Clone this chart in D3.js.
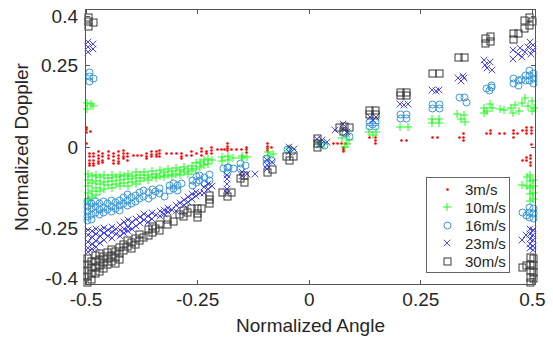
<!DOCTYPE html>
<html><head><meta charset="utf-8">
<script src="https://cdn.jsdelivr.net/npm/d3@7"></script>
<style>
body{margin:0;background:#fff}
svg{display:block}
text{font-family:"Liberation Sans",Arial,Helvetica,sans-serif;fill:#262626}
</style>
</head><body><svg id="c" width="553" height="337"></svg>
<script>
const seriesNames = ["3m/s","10m/s","16m/s","23m/s","30m/s"];
const xTicks = [-0.5,-0.25,0,0.25,0.5];
const xTickLabels = ["-0.5","-0.25","0","0.25","0.5"];
const yTicks = [-0.4,-0.25,0,0.25,0.4];
const yTickLabels = ["-0.4","-0.25","0","0.25","0.4"];

// each row: [normalized angle, doppler, doppler, ...]
const v3 = [
[-0.497,0.060,0.052,0.045,0.010],[-0.488,0.047],
[-0.492,-0.020,-0.030,-0.040,-0.050,-0.056],[-0.483,-0.020,-0.030,-0.040,-0.050,-0.056],
[-0.472,-0.015,-0.025,-0.035,-0.045,-0.051],[-0.462,-0.020,-0.030,-0.040,-0.046],
[-0.449,-0.015,-0.025,-0.036],[-0.438,-0.020,-0.030,-0.040,-0.051],
[-0.427,-0.015,-0.025,-0.035,-0.045,-0.051],[-0.416,-0.010,-0.020,-0.030,-0.036],
[-0.405,-0.020,-0.030,-0.041],[-0.393,-0.025],[-0.384,-0.025],[-0.375,-0.025],
[-0.363,-0.020,-0.028,-0.036],[-0.352,-0.015,-0.022,-0.030],[-0.341,-0.015,-0.022,-0.030],
[-0.334,-0.010,-0.020,-0.030],[-0.318,-0.020],[-0.307,-0.020],[-0.296,-0.020],
[-0.285,-0.020,-0.028,-0.036],[-0.274,-0.025],[-0.263,-0.015,-0.025],[-0.251,-0.020],
[-0.240,-0.005,-0.015,-0.025],[-0.229,-0.015,-0.020],[-0.218,-0.002,-0.010,-0.020],
[-0.205,-0.007],[-0.195,-0.007],[-0.188,-0.007],[-0.181,0.011,0.003,-0.005,-0.010],
[-0.172,-0.007],[-0.161,-0.007],[-0.150,-0.007],[-0.139,-0.001,-0.008,-0.016],
[-0.092,0.011,0.003,-0.005,-0.010],[-0.083,-0.001],[-0.045,0.002],[-0.038,-0.001],
[0.055,0.012],[0.064,0.012],[0.073,0.012],[0.082,0.012],[0.079,0.000,-0.007,-0.014],
[0.137,0.028],[0.150,0.028,0.020,0.012],[0.208,0.020],[0.218,0.020],
[0.277,0.030],[0.288,0.030],[0.337,0.030],[0.347,0.041,0.030,0.020],
[0.398,0.041],[0.407,0.051,0.041],[0.428,0.041],[0.439,0.041],
[0.458,0.051,0.041,0.030],[0.468,0.041],[0.478,0.051],[0.488,0.061,0.051,0.041],
[0.498,0.061,0.051,0.041],[0.499,0.008],
[0.478,-0.041],[0.488,-0.031,-0.041],[0.497,-0.026,-0.036,-0.046,-0.056]
];
const v10 = [
[-0.496,0.135,0.115],[-0.488,0.132],[-0.483,0.125],
[-0.495,-0.081,-0.102,-0.120,-0.139,-0.158,-0.166],[-0.486,-0.090,-0.111,-0.133,-0.154],
[-0.477,-0.084,-0.105,-0.126,-0.148],[-0.468,-0.093,-0.114,-0.133],
[-0.459,-0.087,-0.108,-0.129],[-0.450,-0.096,-0.117],[-0.441,-0.084,-0.105,-0.126],
[-0.432,-0.093,-0.114],[-0.423,-0.084,-0.102,-0.120],[-0.414,-0.090,-0.111],
[-0.405,-0.081,-0.099,-0.120],[-0.396,-0.090,-0.108],[-0.387,-0.077,-0.096,-0.114],
[-0.378,-0.087,-0.105],[-0.369,-0.077,-0.096],[-0.360,-0.084,-0.102],
[-0.351,-0.074,-0.093],[-0.343,-0.081,-0.096],[-0.334,-0.071,-0.090],
[-0.325,-0.077,-0.093],[-0.316,-0.068,-0.084],[-0.307,-0.074,-0.090],
[-0.298,-0.065,-0.081],[-0.289,-0.071,-0.087],[-0.280,-0.062,-0.077],
[-0.271,-0.068,-0.081],[-0.262,-0.059,-0.074],[-0.253,-0.050,-0.068],
[-0.244,-0.047,-0.062],[-0.235,-0.040,-0.055],[-0.226,-0.038,-0.052],[-0.217,-0.040],
[-0.195,-0.032,-0.044],[-0.181,-0.029,-0.041],[-0.170,-0.035],[-0.150,-0.026,-0.035],
[-0.139,-0.030],[-0.092,-0.016,-0.026],[-0.081,-0.022],[-0.043,-0.004,-0.013],
[0.020,0.012],[0.035,0.010],[0.025,0.003],
[0.075,0.028],[0.090,0.022],[0.085,0.010],[0.082,0.000],
[0.135,0.046],[0.150,0.046],[0.143,0.038],[0.205,0.062],[0.222,0.062],
[0.277,0.085,0.072],[0.292,0.085,0.072],
[0.333,0.102],[0.347,0.097],[0.340,0.085],[0.350,0.075],
[0.393,0.120,0.105],[0.405,0.132],[0.400,0.110],[0.410,0.118],[0.428,0.115],[0.437,0.113],
[0.452,0.118],[0.462,0.128],[0.470,0.110],[0.458,0.105],
[0.478,0.135],[0.485,0.150],[0.492,0.125],[0.500,0.110,0.140],[0.505,0.118],
[0.477,-0.117],[0.488,-0.092,-0.120],[0.495,-0.087,-0.105,-0.125,-0.145,-0.165],
[0.503,-0.100,-0.120,-0.140,-0.160]
];
const v16 = [
[-0.491,0.229,0.214,0.199],[-0.481,0.209],
[-0.495,-0.166,-0.181,-0.197,-0.212,-0.224],[-0.486,-0.172,-0.188,-0.206,-0.221],
[-0.477,-0.166,-0.181,-0.200],[-0.468,-0.172,-0.191,-0.206],[-0.459,-0.166,-0.185,-0.200],
[-0.450,-0.172,-0.191],[-0.441,-0.163,-0.181,-0.197],[-0.432,-0.169,-0.188],
[-0.423,-0.163,-0.178,-0.194],[-0.414,-0.154,-0.172],[-0.405,-0.145,-0.163,-0.178],
[-0.396,-0.154,-0.172],[-0.387,-0.148,-0.166],[-0.378,-0.139,-0.157],
[-0.369,-0.133,-0.151],[-0.360,-0.139,-0.157],[-0.351,-0.129,-0.148],[-0.343,-0.136],
[-0.334,-0.126,-0.142],[-0.322,-0.151],[-0.311,-0.117,-0.133],[-0.302,-0.111,-0.126],
[-0.293,-0.117,-0.133],[-0.284,-0.111],[-0.260,-0.102,-0.117],[-0.251,-0.090,-0.108],
[-0.244,-0.087,-0.102],[-0.233,-0.093,-0.111],[-0.222,-0.084,-0.102],
[-0.190,-0.065],[-0.183,-0.062,-0.077],[-0.179,-0.062],[-0.168,-0.065],
[-0.152,-0.050,-0.065],[-0.141,-0.056],[-0.094,-0.035,-0.050],[-0.083,-0.041],
[-0.047,-0.007],[-0.036,-0.013],
[0.028,0.012],[0.035,0.005],[0.082,0.040],[0.092,0.032],
[0.137,0.075,0.062],[0.150,0.075,0.062],[0.143,0.068],
[0.205,0.100,0.088],[0.220,0.100,0.088],[0.277,0.130,0.118],[0.292,0.130,0.118],
[0.337,0.151],[0.350,0.151],[0.354,0.137],
[0.398,0.178],[0.410,0.188,0.183],[0.406,0.173],
[0.458,0.209,0.194],[0.469,0.204,0.189],[0.477,0.206],
[0.486,0.219,0.204],[0.495,0.234,0.219,0.204],[0.503,0.224,0.209,0.194],
[0.478,-0.199],[0.488,-0.209],[0.495,-0.184,-0.199,-0.214],[0.503,-0.189,-0.204,-0.219]
];
const v23 = [
[-0.495,0.321,0.306,0.290],[-0.484,0.314,0.299],
[-0.495,-0.252,-0.270,-0.289,-0.307,-0.322],[-0.486,-0.258,-0.276,-0.295,-0.313],
[-0.477,-0.249,-0.267,-0.286,-0.304],[-0.468,-0.255,-0.273,-0.292],
[-0.459,-0.246,-0.264,-0.283],[-0.450,-0.252,-0.273],[-0.441,-0.243,-0.261,-0.279],
[-0.432,-0.249,-0.267],[-0.423,-0.237,-0.255,-0.273],[-0.414,-0.230,-0.249,-0.264],
[-0.405,-0.224,-0.243,-0.258],[-0.396,-0.230,-0.249],[-0.387,-0.221,-0.240],
[-0.378,-0.215,-0.233],[-0.369,-0.206,-0.224],[-0.360,-0.212,-0.230],
[-0.351,-0.203,-0.221],[-0.343,-0.209],[-0.334,-0.197,-0.212],[-0.325,-0.191,-0.206],
[-0.316,-0.185,-0.200],[-0.307,-0.191],[-0.298,-0.178,-0.194],[-0.289,-0.172],
[-0.280,-0.163,-0.178],[-0.271,-0.154,-0.169],[-0.262,-0.145,-0.160],
[-0.253,-0.136,-0.151],[-0.244,-0.142],[-0.235,-0.123,-0.139],[-0.226,-0.114,-0.129],
[-0.217,-0.120],[-0.183,-0.084,-0.099,-0.114,-0.129,-0.142],[-0.150,-0.075,-0.090],
[-0.139,-0.081],[-0.121,-0.081],[-0.094,-0.041,-0.056,-0.068],[-0.083,-0.047],
[-0.045,-0.001,-0.016],[-0.034,-0.007],
[0.018,0.025],[0.030,0.020],[0.040,0.015],[0.025,0.005],
[0.058,0.053],[0.077,0.071,0.056],[0.085,0.046],
[0.137,0.092],[0.150,0.092],[0.143,0.083],[0.205,0.132],[0.222,0.132],[0.213,0.128],
[0.277,0.175],[0.292,0.175],[0.285,0.170],
[0.335,0.212],[0.348,0.212],[0.341,0.202],[0.345,0.218],
[0.395,0.250],[0.405,0.260],[0.400,0.240],[0.410,0.235],[0.393,0.265],
[0.458,0.296,0.270],[0.469,0.285],[0.473,0.301],[0.477,0.275],
[0.484,0.290],[0.492,0.306],[0.495,0.321],[0.499,0.285],[0.503,0.311,0.296],
[0.477,-0.285],[0.486,-0.270],[0.495,-0.249,-0.265,-0.280,-0.296,-0.310],
[0.503,-0.255,-0.270,-0.285,-0.301,-0.316]
];
const v30 = [
[-0.493,0.395,0.382,0.369],[-0.481,0.379],
[-0.495,-0.341,-0.359,-0.377,-0.395,-0.414],[-0.486,-0.350,-0.368,-0.386,-0.405],
[-0.477,-0.331,-0.350,-0.368,-0.386],[-0.468,-0.325,-0.344,-0.362,-0.380],
[-0.459,-0.334,-0.353,-0.371],[-0.450,-0.322,-0.341,-0.359],[-0.441,-0.313,-0.331,-0.350],
[-0.432,-0.319,-0.337,-0.356],[-0.423,-0.307,-0.325,-0.344],[-0.414,-0.298,-0.316],
[-0.405,-0.286,-0.304],[-0.396,-0.292,-0.310],[-0.387,-0.279,-0.298],
[-0.378,-0.267,-0.286],[-0.369,-0.276],[-0.360,-0.252,-0.270],[-0.351,-0.243,-0.261],
[-0.343,-0.249],[-0.334,-0.237,-0.255],[-0.316,-0.221,-0.237],[-0.304,-0.227],
[-0.289,-0.206],[-0.280,-0.194,-0.212],[-0.271,-0.200],[-0.262,-0.188],
[-0.249,-0.189,-0.204,-0.214],[-0.240,-0.189],[-0.222,-0.148,-0.160,-0.172],
[-0.192,-0.138],[-0.173,-0.138],[-0.182,-0.151],[-0.152,-0.097],[-0.143,-0.086,-0.107],
[-0.092,-0.077],[-0.082,-0.069],[-0.050,-0.029],[-0.035,-0.029],[-0.042,-0.041],
[0.019,0.026,0.012,-0.002],
[0.068,0.061],[0.081,0.063],[0.091,0.061],[0.077,0.046],
[0.137,0.112,0.100],[0.150,0.112,0.100],[0.205,0.168,0.158],[0.220,0.168,0.158],
[0.277,0.225],[0.292,0.225],[0.335,0.272],[0.350,0.272],
[0.397,0.331,0.316],[0.407,0.336,0.321],[0.458,0.347,0.328],[0.471,0.348],
[0.484,0.387,0.363],[0.495,0.397,0.372],[0.502,0.382],
[0.478,-0.367],[0.488,-0.362],[0.497,-0.338,-0.358,-0.378,-0.398,-0.415],
[0.504,-0.342,-0.362,-0.382,-0.402]
];

const allSeries = [v3, v10, v16, v23, v30];
const colors = ["#ff0000","#00ff00","#3a96d8","#3434ff","#3a3a3a"];
const shapes = ["dot","plus","circle","cross","square"];
const offs = [0.5, 0, 0.5, 0, 0.5];

const svg = d3.select("#c");
const L = 85.5, R = 535.5, T = 9.5, B = 284.5;
const x = d3.scaleLinear().domain([-0.5, 0.508]).range([L, R]);
const y = d3.scaleLinear().domain([-0.42, 0.42]).range([B, T]);

svg.append("rect").attr("x",0).attr("y",0).attr("width",553).attr("height",337).attr("fill","#fff");

function marker(g, shape, color){
  if(shape==="dot"){
    g.append("circle").attr("r",1.3).attr("fill",color);
  } else if(shape==="plus"){
    g.append("path").attr("d","M-4,0H4M0,-4V4").attr("stroke",color).attr("stroke-width",0.9)
      .attr("fill","none");
  } else if(shape==="circle"){
    g.append("circle").attr("r",3.5).attr("stroke",color).attr("stroke-width",1).attr("fill","none");
  } else if(shape==="cross"){
    g.append("path").attr("d","M-3.3,-3.3L3.3,3.3M-3.3,3.3L3.3,-3.3").attr("stroke",color).attr("stroke-width",0.9).attr("fill","none");
  } else {
    g.append("rect").attr("x",-3.5).attr("y",-3.5).attr("width",7).attr("height",7).attr("stroke",color)
      .attr("stroke-width",1).attr("fill","none");
  }
}

const plot = svg.append("g");
allSeries.forEach((rows, si) => {
  const o = offs[si];
  const snap = v => Math.round(v - o) + o;
  const pts = rows.flatMap(r => r.slice(1).map(d => [r[0], d]));
  const gs = plot.append("g").selectAll("g").data(pts).join("g")
    .attr("transform", d => `translate(${snap(x(d[0]))},${snap(y(d[1]))})`);
  gs.each(function(){ marker(d3.select(this), shapes[si], colors[si]); });
});

// axes
const axCol = "#555";
const fs = 19;
const ax = svg.append("g");
const gBottom = ax.append("g").attr("transform",`translate(0,${B})`)
  .call(d3.axisBottom(x).tickValues(xTicks).tickFormat((d,i)=>xTickLabels[i]).tickSizeInner(-4.5).tickSizeOuter(0).tickPadding(8));
const gLeft = ax.append("g").attr("transform",`translate(${L},0)`)
  .call(d3.axisLeft(y).tickValues(yTicks).tickFormat((d,i)=>yTickLabels[i]).tickSizeInner(-4.5).tickSizeOuter(0).tickPadding(7.5));
const gTop = ax.append("g").attr("transform",`translate(0,${T})`)
  .call(d3.axisTop(x).tickValues(xTicks).tickFormat("").tickSizeInner(-4.5).tickSizeOuter(0));
const gRight = ax.append("g").attr("transform",`translate(${R},0)`)
  .call(d3.axisRight(y).tickValues(yTicks).tickFormat("").tickSizeInner(-4.5).tickSizeOuter(0));
[gBottom,gLeft,gTop,gRight].forEach(g=>{
  g.select(".domain").remove();
  g.selectAll(".tick line").attr("stroke",axCol).attr("shape-rendering","crispEdges");
  g.selectAll(".tick text").attr("font-size",fs).attr("fill","#262626")
   .style("font-family",'"Liberation Sans",Arial,sans-serif');
});
ax.append("rect").attr("x",L).attr("y",T).attr("width",R-L).attr("height",B-T)
  .attr("fill","none").attr("stroke",axCol).attr("stroke-width",1).attr("shape-rendering","crispEdges");

svg.append("text").attr("x",(L+R)/2).attr("y",332).attr("text-anchor","middle")
  .attr("font-size",fs).text("Normalized Angle");
svg.append("text").attr("transform",`translate(28,${(T+B)/2}) rotate(-90)`).attr("text-anchor","middle")
  .attr("font-size",fs).text("Normalized Doppler");

// legend
const lg = svg.append("g");
lg.append("rect").attr("x",426.5).attr("y",177.5).attr("width",83).attr("height",95)
  .attr("fill","#fff").attr("stroke","#666").attr("stroke-width",1).attr("shape-rendering","crispEdges");
const legY = [189.5,207.5,225.5,243.5,261.5];
seriesNames.forEach((name,i)=>{
  const o = offs[i] - 0.5;
  const g = lg.append("g").attr("transform",`translate(${447.5+o},${legY[i]+o})`);
  marker(g, shapes[i], colors[i]);
  lg.append("text").attr("x",465).attr("y",legY[i]).attr("dy","0.35em")
    .attr("font-size",15).text(name);
});
</script>
</body></html>
